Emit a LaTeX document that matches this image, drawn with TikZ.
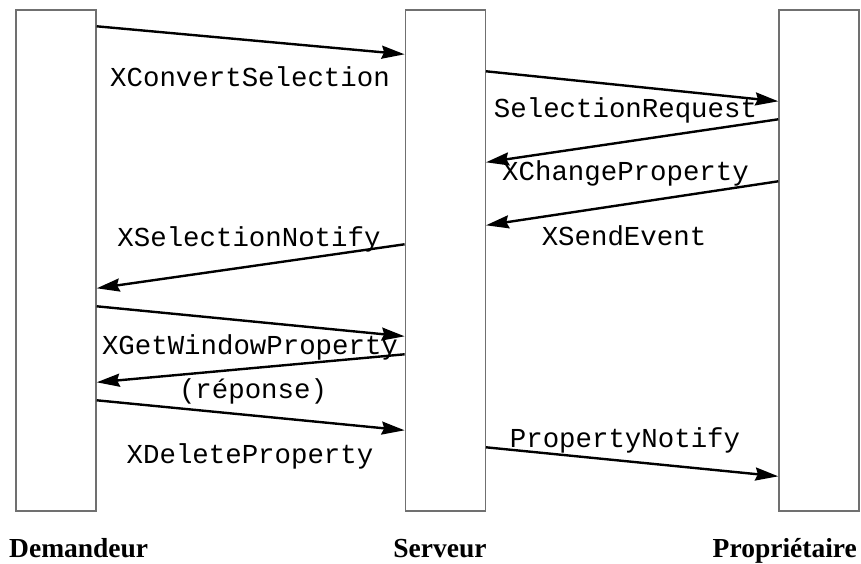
\documentclass[tikz,border=0pt]{standalone}
\usepackage{fontspec}
\setmainfont{Liberation Serif}
\newfontfamily\monofam{Liberation Mono}
\usetikzlibrary{arrows.meta}
\definecolor{boxgray}{RGB}{112,112,112}
\begin{document}
\begin{tikzpicture}[x=1pt,y=-1pt,
  lane/.style={draw=boxgray,line width=1.4pt,inner sep=0pt,minimum width=80pt,minimum height=501pt},
  msg/.style={line width=2.4pt,-{Stealth[length=23pt,width=13pt,inset=2.5pt]}},
  call/.style={anchor=base,inner sep=0pt,font=\monofam\fontsize{27.4}{30}\selectfont},
  role/.style={anchor=base,inner sep=0pt,font=\bfseries\fontsize{27.5}{30}\selectfont}]
\useasboundingbox (0,0) rectangle (861,564);

% the three parties
\node[lane] (dem) at (56,260.5) {};
\node[lane] (ser) at (445.3,260.5) {};
\node[lane] (pro) at (819,260.5) {};

% messages between them
\draw[msg] ([yshift=-17pt]dem.north east) -- ([yshift=-45pt]ser.north west);
\draw[msg] ([yshift=-62pt]ser.north east) -- ([yshift=-92pt]pro.north west);
\draw[msg] ([yshift=-110pt]pro.north west) -- ([yshift=-153pt]ser.north east);
\draw[msg] ([yshift=-172pt]pro.north west) -- ([yshift=-216pt]ser.north east);
\draw[msg] ([yshift=-235pt]ser.north west) -- ([yshift=-279pt]dem.north east);
\draw[msg] ([yshift=-297pt]dem.north east) -- ([yshift=-327pt]ser.north west);
\draw[msg] ([yshift=-345pt]ser.north west) -- ([yshift=-373pt]dem.north east);
\draw[msg] ([yshift=-391pt]dem.north east) -- ([yshift=-421pt]ser.north west);
\draw[msg] ([yshift=-438pt]ser.north east) -- ([yshift=-467pt]pro.north west);

% message labels
\node[call] (l1) at (250,87) {XConvertSelection};
\node[call] (l2) at (625.5,118) {SelectionRequest};
\node[call] (l3) at (625.5,181) {XChangeProperty};
\node[call] (l4) at (624,245) {XSendEvent};
\node[call] (l5) at (249,246) {XSelectionNotify};
\node[call] (l6) at (250,354) {XGetWindowProperty};
\node[call] (l7) at (253,398) {(réponse)};
\node[call] (l8) at (250,463) {XDeleteProperty};
\node[call] (l9) at (625,447) {PropertyNotify};

% party names
\node[role] (n1) at (78.7,557) {Demandeur};
\node[role] (n2) at (440,557) {Serveur};
\node[role,anchor=base east] (n3) at (857,557) {Propriétaire};
\end{tikzpicture}
\end{document}
